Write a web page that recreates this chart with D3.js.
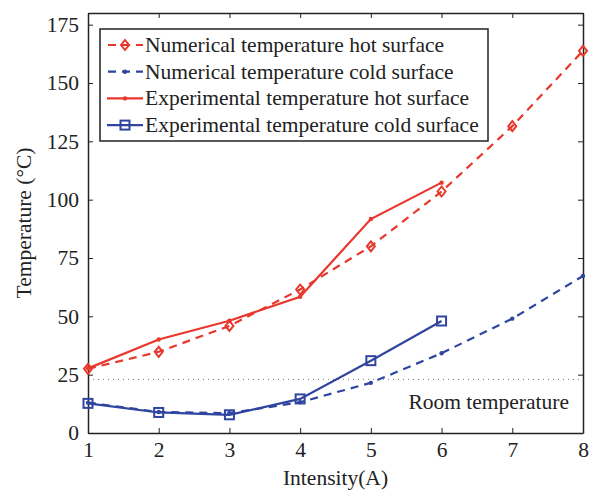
<!DOCTYPE html>
<html><head><meta charset="utf-8">
<script src="https://cdn.jsdelivr.net/npm/d3@7"></script>
<style>body{margin:0;background:#fff;} text{font-family:"Liberation Serif","Times New Roman",serif;fill:#222;}</style>
</head><body>
<svg id="c" width="598" height="492"></svg>
<script>
const intensity = [1,2,3,4,5,6,7,8];
const numHot = [27.5,34.8,45.9,61.5,80,103.5,131.5,163.8];
const numCold = [13,9,8.5,13.2,21.5,34.2,49,67.3];
const expIntensity = [1,2,3,4,5,6];
const expHot = [27.7,40.1,48.1,58.4,91.7,107.3];
const expCold = [12.7,8.8,7.8,14.6,31,48];
const roomTemp = 23;
const xTicks = [1,2,3,4,5,6,7,8];
const yTicks = [0,25,50,75,100,125,150,175];
const seriesNames = ["Numerical temperature hot surface","Numerical temperature cold surface","Experimental temperature hot surface","Experimental temperature cold surface"];

const red = "#e8372c", blue = "#2f45a0";
const FS = 21.5;
const svg = d3.select("#c");
const L=88, R=583, T=13, B=433;
const x = d3.scaleLinear().domain([1,8]).range([L,R]);
const y = d3.scaleLinear().domain([0,180]).range([B,T]);

// room temperature line
svg.append("line").attr("x1",L).attr("x2",R).attr("y1",y(roomTemp)).attr("y2",y(roomTemp))
  .attr("stroke","#777").attr("stroke-width",1).attr("stroke-dasharray","1,4");
svg.append("text").attr("x",569).attr("y",409).attr("text-anchor","end").style("font-size",FS+"px").text("Room temperature");

// axes box
const ax = svg.append("g");
const fmt = d3.format("d");
ax.append("g").attr("transform",`translate(0,${B})`).call(d3.axisBottom(x).tickValues(xTicks).tickFormat(fmt).tickSizeInner(-5).tickSizeOuter(0).tickPadding(9));
ax.append("g").attr("transform",`translate(0,${T})`).call(d3.axisTop(x).tickValues(xTicks).tickSizeInner(-5).tickSizeOuter(0).tickFormat(""));
ax.append("g").attr("transform",`translate(${L},0)`).call(d3.axisLeft(y).tickValues(yTicks).tickFormat(fmt).tickSizeInner(-5).tickSizeOuter(0).tickPadding(9));
ax.append("g").attr("transform",`translate(${R},0)`).call(d3.axisRight(y).tickValues(yTicks).tickSizeInner(-5).tickSizeOuter(0).tickFormat(""));
ax.selectAll(".domain").attr("stroke","#222").attr("stroke-width",1.5);
ax.selectAll(".tick line").attr("stroke","#222");
ax.selectAll(".tick text").style("font-size",FS+"px").style("font-family","Liberation Serif").attr("fill","#222");

const line = d3.line().x(d=>x(d[0])).y(d=>y(d[1]));
const nh = intensity.map((v,i)=>[v,numHot[i]]);
const nc = intensity.map((v,i)=>[v,numCold[i]]);
const eh = expIntensity.map((v,i)=>[v,expHot[i]]);
const ec = expIntensity.map((v,i)=>[v,expCold[i]]);

function diamond(g,cx,cy,col){ g.append("path").attr("d",`M${cx},${cy-5}L${cx+4},${cy}L${cx},${cy+5}L${cx-4},${cy}Z`).attr("fill","none").attr("stroke",col).attr("stroke-width",2); }
function square(g,cx,cy,col){ g.append("rect").attr("x",cx-4.5).attr("y",cy-4.5).attr("width",9).attr("height",9).attr("fill","none").attr("stroke",col).attr("stroke-width",2); }
function dot(g,cx,cy,col){ g.append("circle").attr("cx",cx).attr("cy",cy).attr("r",2.2).attr("fill",col); }

const p = svg.append("g");
p.append("path").attr("d",line(nc)).attr("fill","none").attr("stroke",blue).attr("stroke-width",2.2).attr("stroke-dasharray","8,6");
p.append("path").attr("d",line(ec)).attr("fill","none").attr("stroke",blue).attr("stroke-width",2.2);
p.append("path").attr("d",line(nh)).attr("fill","none").attr("stroke",red).attr("stroke-width",2.2).attr("stroke-dasharray","8,6");
p.append("path").attr("d",line(eh)).attr("fill","none").attr("stroke",red).attr("stroke-width",2.2);
nc.forEach(d=>dot(p,x(d[0]),y(d[1]),blue));
ec.forEach(d=>square(p,x(d[0]),y(d[1]),blue));
nh.forEach(d=>diamond(p,x(d[0]),y(d[1]),red));
eh.forEach(d=>dot(p,x(d[0]),y(d[1]),red));

// legend
const lg = svg.append("g");
lg.append("rect").attr("x",100).attr("y",29).attr("width",388).attr("height",112).attr("fill","#fff").attr("stroke","#222").attr("stroke-width",1.5);
const styles = [
 {col:red,dash:"8,6",m:diamond},
 {col:blue,dash:"8,6",m:dot},
 {col:red,dash:null,m:dot},
 {col:blue,dash:null,m:square}];
seriesNames.forEach((n,i)=>{
  const yy = 45 + i*26.7;
  const s = styles[i];
  const l = lg.append("line").attr("x1",107).attr("x2",143).attr("y1",yy).attr("y2",yy).attr("stroke",s.col).attr("stroke-width",2.2);
  if(s.dash) l.attr("stroke-dasharray","8,6").attr("stroke-dashoffset",-1);
  s.m(lg,125,yy,s.col);
  lg.append("text").attr("x",145).attr("y",yy+7).style("font-size",FS+"px").text(n);
});

// axis labels
svg.append("text").attr("x",(L+R)/2).attr("y",485).attr("text-anchor","middle").style("font-size",FS+"px").text("Intensity(A)");
svg.append("text").attr("transform",`translate(31,${(T+B)/2}) rotate(-90)`).attr("text-anchor","middle").style("font-size",FS+"px").text("Temperature (°C)");
</script>
</body></html>
